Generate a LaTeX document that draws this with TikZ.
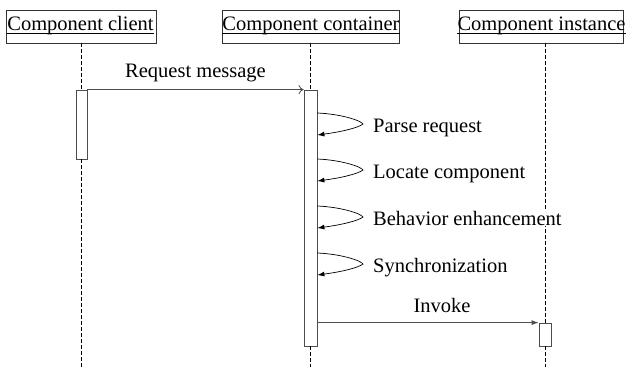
\documentclass[tikz,border=0pt]{standalone}
\usepackage{fontspec}
\setmainfont{Liberation Serif}
\usetikzlibrary{arrows.meta}
\begin{document}
\begin{tikzpicture}[x=1pt,y=-1pt,
  font=\fontsize{20.5}{24}\selectfont,
  head/.style={draw=black!80, line width=0.8pt, minimum height=33pt, inner sep=0pt, fill=white},
  htext/.style={anchor=base, inner sep=0pt},
  life/.style={dash pattern=on 4pt off 2pt, line width=1pt},
  act/.style={draw=black!70, fill=white, line width=0.8pt, inner sep=0pt},
  msg/.style={draw=black!70, line width=0.8pt},
  loopline/.style={draw=black, line width=0.7pt, -{Latex[length=7pt,width=5pt]}},
  lbl/.style={inner sep=1pt, anchor=base west, fill=white},
  mlbl/.style={inner sep=1pt, anchor=base, fill=white}]
\useasboundingbox (0,0) rectangle (629,367);

% headers
\node[head, minimum width=150pt] (hc) at (81,26.5) {};
\node[htext] (tc) at (80.5,30) {Component client};
\draw[line width=0.8pt] ([yshift=-3.5pt]tc.base west) -- ([yshift=-3.5pt]tc.base east);

\node[head, minimum width=177pt] (hk) at (310.5,26.5) {};
\node[htext] (tk) at (311,30) {Component container};
\draw[line width=0.8pt] ([yshift=-3.5pt]tk.base west) -- ([yshift=-3.5pt]tk.base east);

\node[head, minimum width=164pt] (hi) at (541,26.5) {};
\node[htext] (ti) at (541.5,30) {Component instance};
\draw[line width=0.8pt] ([yshift=-3.5pt]ti.base west) -- ([yshift=-3.5pt]ti.base east);

% activations
\node[act, minimum width=11pt, minimum height=69pt] (ac) at (81.5,124.5) {};
\node[act, minimum width=13pt, minimum height=256pt] (ak) at (310.5,218) {};
\node[act, minimum width=12pt, minimum height=23pt] (ai) at (545,334.5) {};

\coordinate (ec) at (81.5,367);
\coordinate (ek) at (310.5,367);
\coordinate (ei) at (545,367);

% lifelines
\draw[life] (ac.north |- hc.south) -- (ac.north);
\draw[life] (ac.south) -- (ec);
\draw[life] (ak.north |- hk.south) -- (ak.north);
\draw[life] (ak.south) -- (ek);
\draw[life] (ai.north |- hi.south) -- (ai.north);
\draw[life] (ai.south) -- (ei);

% request message
\draw[msg, -{To[length=5pt,width=9pt]}] (ac.north east) -- (ak.north west);
\node[mlbl] (lreq) at (195.5,77) {Request message};

% self messages
\foreach \y/\t/\n in {113/Parse request/a, 159/Locate component/b, 206/Behavior enhancement/c, 253/Synchronization/d}{
  \coordinate (s\n) at (ak.east |- 0,\y);
  \coordinate (m\n) at (363,\y+11);
  \coordinate (e\n) at (ak.east |- 0,\y+22);
  \draw[loopline] (s\n) .. controls (340,\y+1) and (360,\y+7) .. (m\n)
     .. controls (358,\y+15) and (340,\y+19) .. (e\n);
  \node[lbl] (l\n) at (372,\y+19) {\t};
}

% invoke
\draw[msg, -{Latex[length=7pt,width=5pt]}] (ak.east |- ai.north) -- (ai.north west);
\node[mlbl] (linv) at (442,312) {Invoke};
\end{tikzpicture}
\end{document}
